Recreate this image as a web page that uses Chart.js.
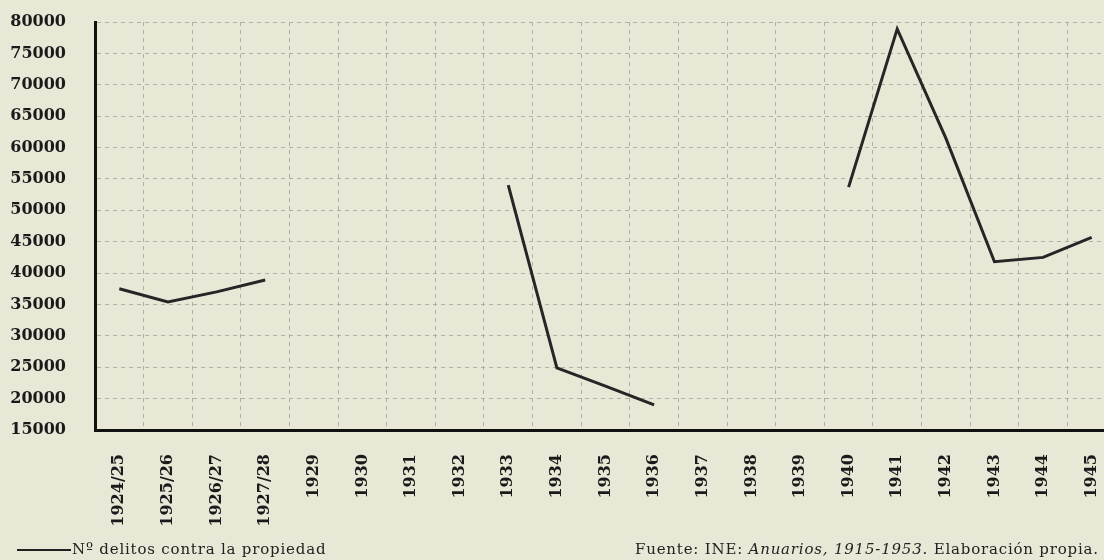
<!DOCTYPE html>
<html>
<head>
<meta charset="utf-8">
<script src="https://cdn.jsdelivr.net/npm/chart.js@4.4.1/dist/chart.umd.min.js"></script>
<style>
    html, body { margin: 0; padding: 0; overflow: hidden; background: #e9e8d7; }
    .wrap { position: relative; width: 1121px; height: 560px; }
    .note { position: absolute; font-family: 'DejaVu Serif', serif; font-size: 15px; letter-spacing: 0.8px; color: #222; white-space: nowrap; }
    .legend-line { position: absolute; left: 17px; top: 549px; width: 54px; height: 2px; background: #222; }
</style>
</head>
<body>
<div class="wrap">
    <canvas id="chart" width="1121" height="560"></canvas>
    <div class="legend-line"></div>
    <div class="note" style="left:72px; top:540px;">Nº delitos contra la propiedad</div>
    <div class="note" style="left:635px; top:540px;">Fuente: INE: <i>Anuarios, 1915-1953</i>. Elaboración propia.</div>
</div>
<script>
    /* --- Data --- */
    const years = ['1924/25', '1925/26', '1926/27', '1927/28', '1929', '1930', '1931', '1932',
        '1933', '1934', '1935', '1936', '1937', '1938', '1939', '1940',
        '1941', '1942', '1943', '1944', '1945'];

    // Nº delitos contra la propiedad (gaps where there is no data)
    const delitos = [37500, 35400, 37000, 38900, null, null, null, null,
        54000, 24900, 22000, 19000, null, null, null, 53700,
        78900, 61500, 41800, 42500, 45700];

    const yMin = 15000;
    const yMax = 80000;
    const yStep = 5000;

    const ctx = document.getElementById('chart').getContext('2d');

    new Chart(ctx, {
        type: 'line',
        data: {
            labels: years,
            datasets: [{
                label: 'Nº delitos contra la propiedad',
                data: delitos,
                borderColor: '#262626',
                borderWidth: 3,
                pointRadius: 0,
                tension: 0,
                spanGaps: false
            }]
        },
        options: {
            responsive: false,
            animation: false,
            layout: { padding: { top: 22, right: 5, left: 0, bottom: 0 } },
            plugins: {
                legend: { display: false },
                tooltip: { enabled: false }
            },
            scales: {
                x: {
                    offset: true,
                    grid: { offset: true, color: '#b0afa6', lineWidth: 1, drawTicks: false },
                    border: { color: '#111', width: 3, dash: [4, 4] },
                    ticks: {
                        autoSkip: false,
                        minRotation: 90,
                        maxRotation: 90,
                        padding: 24,
                        color: '#1a1a1a',
                        font: { family: 'DejaVu Serif', size: 16, weight: 'bold' }
                    },
                    afterFit: (scale) => {
                        scale.height = 130;
                        scale.paddingLeft = 0;
                        scale.paddingRight = 0;
                    }
                },
                y: {
                    min: yMin,
                    max: yMax,
                    grid: { color: '#b0afa6', lineWidth: 1, drawTicks: false },
                    border: { color: '#111', width: 3, dash: [4, 4] },
                    ticks: {
                        stepSize: yStep,
                        padding: 29,
                        color: '#1a1a1a',
                        font: { family: 'DejaVu Serif', size: 16, weight: 'bold' },
                        callback: (v) => String(v)
                    },
                    afterFit: (scale) => {
                        scale.width = 95;
                        scale.paddingTop = 0;
                        scale.paddingBottom = 0;
                    }
                }
            }
        }
    });
</script>
</body>
</html>
